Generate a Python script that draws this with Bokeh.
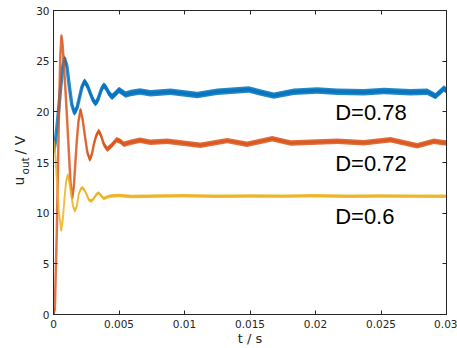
import math
import numpy as np
from bokeh.plotting import figure
from bokeh.layouts import row
from bokeh.models import Range1d, FixedTicker, LinearAxis, Label
from bokeh.embed import file_html
from bokeh.resources import INLINE

# ---- data ----
t_078 = [0, 0.00014, 0.00028, 0.00042, 0.00056, 0.0007, 0.00084, 0.00102, 0.0012, 0.0014,
         0.0016, 0.0018, 0.00198, 0.00218, 0.00237, 0.00258, 0.00279, 0.003, 0.0032,
         0.00336, 0.00352, 0.00368, 0.00384, 0.004, 0.00416, 0.00432, 0.00448, 0.00474,
         0.005, 0.0055, 0.0059, 0.0066, 0.0074, 0.00893, 0.01097, 0.0125, 0.01491,
         0.0158, 0.01682, 0.01835, 0.02013, 0.02166, 0.02369, 0.02522, 0.02725, 0.02853,
         0.02916, 0.0298, 0.03]
u_078 = [16.0, 17.0, 18.7, 20.6, 22.6, 24.4, 25.3, 24.5, 22.6, 20.7,
         19.9, 20.4, 21.4, 22.5, 23.0, 22.6, 21.9, 21.2, 20.85,
         21.1, 21.7, 22.3, 22.6, 22.4, 22.0, 21.65, 21.5, 21.8,
         22.15, 21.7, 21.85, 22.0, 21.83, 21.99, 21.67, 21.99, 22.2,
         21.9, 21.6, 21.99, 22.1, 21.99, 21.93, 22.05, 21.93, 21.99,
         21.55, 22.3, 22.1]

t_072 = [0, 0.0001, 0.00025, 0.0004, 0.00052, 0.00061, 0.0007, 0.0008, 0.00092, 0.00105,
         0.00117, 0.0013, 0.00143, 0.00155, 0.00165, 0.00176, 0.0019, 0.00206, 0.00222,
         0.00239, 0.00258, 0.00277, 0.00293, 0.00308, 0.00327, 0.00346, 0.00365, 0.00384,
         0.0041, 0.00445, 0.00481, 0.0051, 0.00537, 0.0059, 0.0066, 0.0074, 0.00867,
         0.01122, 0.01326, 0.01478, 0.0167, 0.0181, 0.02013, 0.02166, 0.02369, 0.02573,
         0.02725, 0.02776, 0.02904, 0.0298, 0.03]
u_072 = [0, 0.5, 8.0, 18.7, 25.5, 27.5, 26.5, 24.5, 22.0, 19.0,
         16.1, 13.0, 11.5, 12.6, 14.6, 16.8, 19.0, 20.2, 19.3,
         17.7, 16.0, 15.3, 15.8, 16.8, 17.7, 18.1, 17.6, 16.8,
         16.3, 16.7, 17.25, 17.1, 16.8, 17.0, 17.2, 16.99, 17.09,
         16.7, 17.16, 16.8, 17.35, 16.93, 17.03, 17.09, 16.95, 17.25,
         16.8, 16.65, 17.1, 16.95, 16.95]

t_060 = [0, 0.00003, 0.00015, 0.00028, 0.00042, 0.00059, 0.00072, 0.00084, 0.00097,
         0.00109, 0.00122, 0.00135, 0.00149, 0.00163, 0.00178, 0.00193, 0.00208, 0.00224,
         0.0024, 0.00255, 0.00268, 0.00282, 0.00298, 0.00315, 0.0033, 0.00346, 0.00365,
         0.00384, 0.0041, 0.00435, 0.005, 0.006, 0.008, 0.010, 0.0125, 0.015, 0.0175,
         0.020, 0.0225, 0.025, 0.0275, 0.03]
u_060 = [17.0, 17.1, 15.5, 12.8, 10.0, 8.3, 9.5, 11.5, 13.2,
         13.8, 13.0, 11.9, 10.7, 10.2, 10.7, 11.9, 12.4, 12.5,
         12.2, 11.8, 11.35, 11.2, 11.3, 11.6, 11.9, 12.0, 11.7,
         11.45, 11.6, 11.7, 11.75, 11.65, 11.7, 11.72, 11.66, 11.7, 11.68,
         11.72, 11.66, 11.7, 11.68, 11.66]

ripple = {"0.78": 0.32, "0.72": 0.27, "0.6": 0.17}   # half peak-to-peak ripple, V
widths = {"0.78": 3.5, "0.72": 2.5, "0.6": 2.0}

x_ticks = [0, 0.005, 0.01, 0.015, 0.02, 0.025, 0.03]
x_tick_labels = ["0", "0.005", "0.01", "0.015", "0.02", "0.025", "0.03"]
y_ticks = [0, 5, 10, 15, 20, 25, 30]

labels = ["D=0.78", "D=0.72", "D=0.6"]
label_x = [0.0215, 0.0215, 0.0215]
label_y = [19.9, 14.9, 9.7]

colors = {"0.78": "#0072BD", "0.72": "#D95319", "0.6": "#EDB120"}
AX = "#262626"

# ---- main plot ----
p = figure(width=427, height=348, output_backend="svg", toolbar_location=None,
           x_range=Range1d(0, 0.03), y_range=Range1d(0, 30),
           min_border_left=23, min_border_right=11, min_border_top=10,
           min_border_bottom=32)
p.background_fill_color = "white"
p.border_fill_color = "white"
p.outline_line_color = AX
p.outline_line_width = 1
p.grid.visible = False

for key, t, u in [("0.78", t_078, u_078), ("0.72", t_072, u_072), ("0.6", t_060, u_060)]:
    t = np.array(t, dtype=float)
    u = np.array(u, dtype=float)
    r = ripple[key]
    p.varea(x=t, y1=u - r, y2=u + r, fill_color=colors[key], fill_alpha=0.85)
    p.line(t, u, line_color=colors[key], line_width=widths[key], line_alpha=0.8,
           line_join="round")

for ax in (p.xaxis[0], p.yaxis[0]):
    ax.major_tick_in = 4
    ax.major_tick_out = 0
    ax.minor_tick_line_color = None
    ax.axis_line_color = AX
    ax.major_tick_line_color = AX
    ax.major_label_text_font = "DejaVu Sans"
    ax.major_label_text_font_size = "10.5px"
    ax.major_label_text_color = AX

p.xaxis[0].ticker = FixedTicker(ticks=x_ticks)
p.xaxis[0].major_label_overrides = {t: s for t, s in zip(x_ticks, x_tick_labels)}
p.xaxis[0].major_label_standoff = 5
p.xaxis[0].major_label_text_line_height = 1.0
p.xaxis[0].axis_label = "t / s"
p.xaxis[0].axis_label_text_font = "DejaVu Sans"
p.xaxis[0].axis_label_text_font_size = "13px"
p.xaxis[0].axis_label_text_font_style = "normal"
p.xaxis[0].axis_label_text_color = AX
p.xaxis[0].axis_label_text_line_height = 1.0
p.xaxis[0].axis_label_standoff = 0
p.yaxis[0].ticker = FixedTicker(ticks=y_ticks)
p.yaxis[0].major_label_standoff = 4

for loc, tk in (("right", y_ticks), ("above", x_ticks)):
    ax = LinearAxis(ticker=FixedTicker(ticks=tk), major_label_text_font_size="0px",
                    major_label_overrides={t: "" for t in tk},
                    major_label_standoff=0, major_tick_in=4, major_tick_out=0,
                    minor_tick_line_color=None, axis_line_color=AX,
                    major_tick_line_color=AX)
    p.add_layout(ax, loc)

for txt, x, y in zip(labels, label_x, label_y):
    p.add_layout(Label(x=x, y=y, text=txt, text_font="Liberation Sans",
                       text_font_size="22px", text_color="black",
                       text_baseline="alphabetic", text_align="left"))

# ---- y-axis title panel (kept as text so the subscript stays text) ----
yl = figure(width=30, height=348, output_backend="svg", toolbar_location=None,
            x_range=Range1d(0, 30), y_range=Range1d(0, 348),
            x_axis_type=None, y_axis_type=None, min_border=0)
yl.outline_line_color = None
yl.grid.visible = False
yl.background_fill_color = "white"
yl.border_fill_color = "white"
common = dict(x_units="screen", y_units="screen", text_color=AX,
              text_font="DejaVu Sans", text_baseline="alphabetic", text_align="left",
              angle=math.pi / 2)
yl.add_layout(Label(x=18.3, y=129, text="u", text_font_size="14px", **common))
yl.add_layout(Label(x=24.0, y=140, text="out", text_font_size="10.5px", **common))
yl.add_layout(Label(x=19.3, y=160, text="/ V", text_font_size="14px", **common))

layout = row(yl, p, spacing=0)
open("out.html", "w").write(file_html(layout, INLINE))
